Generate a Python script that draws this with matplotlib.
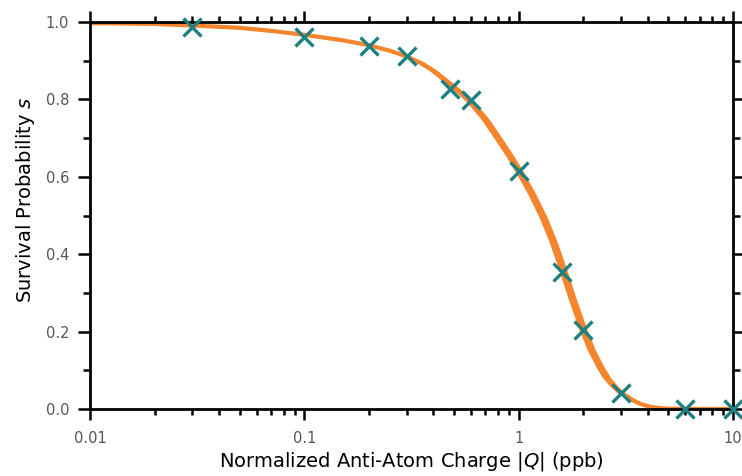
import matplotlib
matplotlib.use("Agg")
import matplotlib.pyplot as plt
import numpy as np
from matplotlib.ticker import FixedLocator, LogLocator, NullFormatter, FuncFormatter

plt.rcParams['font.family'] = ['DejaVu Sans']
plt.rcParams['mathtext.fontset'] = 'dejavusans'

# Fitted survival curve
curve_q = [0.01, 0.02, 0.03, 0.05, 0.07, 0.1, 0.15, 0.2, 0.25, 0.3, 0.35, 0.4, 0.48, 0.55,
           0.6, 0.7, 0.82, 0.9, 1.0, 1.15, 1.3, 1.45, 1.6, 1.79, 2.0, 2.19, 2.4, 2.58,
           2.8, 3.0, 3.37, 3.7, 4.1, 4.6, 5.0, 6.0, 10.0]
curve_s = [0.997, 0.995, 0.991, 0.985, 0.977, 0.967, 0.953, 0.940, 0.926, 0.911, 0.894, 0.874,
           0.839, 0.812, 0.792, 0.748, 0.692, 0.658, 0.617, 0.557, 0.497, 0.433, 0.365, 0.282,
           0.206, 0.152, 0.109, 0.080, 0.057, 0.042, 0.024, 0.013, 0.006, 0.002, 0.001, 0.0, 0.0]

# Measured points
meas_q = [0.03, 0.1, 0.2, 0.3, 0.48, 0.6, 1.0, 1.6, 2.0, 3.0, 6.0, 10.0]
meas_s = [0.986, 0.962, 0.939, 0.912, 0.826, 0.798, 0.615, 0.355, 0.204, 0.042, 0.0, 0.0]

xtick_vals = [0.01, 0.1, 1, 10]
xtick_labels = ["0.01", "0.1", "1", "10"]
ytick_vals = [0.0, 0.2, 0.4, 0.6, 0.8, 1.0]

orange = '#F5852C'
teal = '#1E8080'

fig = plt.figure(figsize=(7.42, 4.76), dpi=100)
ax = fig.add_axes([90/742, 67/476, 643/742, 387/476])

cq = np.array(curve_q)
cs = np.array(curve_s)
band_q = np.concatenate([cq * 0.958, (cq * 1.045)[::-1]])
band_s = np.concatenate([cs, cs[::-1]])
ax.fill(band_q, band_s, color=orange, lw=0, zorder=2)
ax.plot(cq, cs, color=orange, lw=3.0, solid_joinstyle='round', zorder=2)

ax.plot(meas_q, meas_s, ls='none', marker='x', ms=13, mew=2.4, color=teal,
        zorder=4, clip_on=False)

ax.set_xscale('log')
ax.set_xlim(0.01, 10)
ax.set_ylim(0, 1.0)

ax.xaxis.set_major_locator(FixedLocator(xtick_vals))
ax.set_xticklabels(xtick_labels)
ax.xaxis.set_minor_locator(LogLocator(base=10, subs=np.arange(2, 10)))
ax.xaxis.set_minor_formatter(NullFormatter())
ax.yaxis.set_major_locator(FixedLocator(ytick_vals))
ax.yaxis.set_major_formatter(FuncFormatter(lambda v, p: f"{v:.1f}"))
ax.yaxis.set_minor_locator(FixedLocator([0.1, 0.3, 0.5, 0.7, 0.9]))

for s in ax.spines.values():
    s.set_linewidth(2.0)
    s.set_color('black')

ax.tick_params(which='both', direction='out', top=True, right=True, color='black',
               labelcolor='#555555', labelsize=10.5)
ax.tick_params(axis='y', which='major', length=9, width=1.8, pad=6)
ax.tick_params(axis='y', which='minor', length=5, width=1.8)
ax.tick_params(axis='x', which='major', length=8, width=1.8, pad=8)
ax.tick_params(axis='x', which='minor', length=4, width=1.8)

ax.set_xlabel(r"Normalized Anti-Atom Charge |$Q$| (ppb)", fontsize=14, labelpad=3)
ax.set_ylabel(r"Survival Probability $s$", fontsize=14)
ax.yaxis.set_label_coords(-0.083, 0.54)

fig.savefig("out.png", dpi=100)
